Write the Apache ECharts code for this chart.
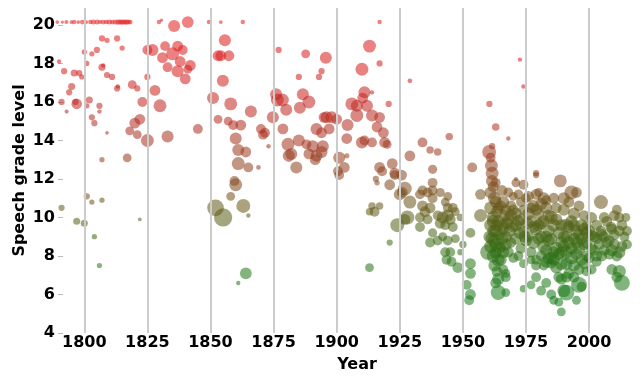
<!DOCTYPE html>
<html>
<head>
<meta charset="utf-8">
<script src="https://cdn.jsdelivr.net/npm/echarts@6/dist/echarts.min.js"></script>
<style>
html,body{margin:0;padding:0;background:#fff;}
#chart{width:640px;height:381px;}
</style>
</head>
<body>
<div id="chart"></div>
<script>
// [year, grade level, words]
const speechesEarly = [
[1789.3,20.15,500],[1791.3,20.15,400],[1792.9,20.15,600],[1794.9,20.15,500],[1796,20.15,700],[1797.6,20.15,500],[1799.2,20.15,800],[1800.8,20.15,500],[1802.4,20.15,700],[1803.6,20.15,900],[1805.1,20.15,900],[1806.3,20.15,600],[1807.5,20.15,800],[1808.7,20.15,700],[1809.9,20.15,900],[1811.1,20.15,800],[1812.3,20.15,900],[1813.4,20.15,1000],[1814.2,20.15,900],[1815,20.15,1000],[1815.8,20.15,900],[1816.6,20.15,1000],[1817.4,20.15,900],[1818.2,20.15,800],[1829.6,20.15,700],[1830.6,20.25,400],[1835.6,19.95,5200],[1841,20.15,5000],[1849.4,20.15,700],
[1790,18.1,700],[1792,17.6,1400],[1796,17.5,1800],[1798,17.5,1400],[1799,17.3,1000],[1795,16.8,1800],[1794,16.5,1400],[1791,16.0,1400],[1797,15.9,4000],[1796.5,16.0,1400],[1793,15.5,600],
[1800,18.6,1000],[1801,18.0,1000],[1805,18.7,1400],[1803,18.5,1000],[1807,19.3,1400],[1809,19.2,1000],[1813,19.3,1400],[1815,18.8,1000],[1807,17.8,1800],[1807.5,17.9,700],[1809,17.4,1400],[1811,17.3,1400],[1813,16.7,1400],[1813.3,16.8,700],
[1802,16.1,1800],[1801,15.8,1000],[1806,15.8,1400],[1806,15.5,700],[1803,15.2,1400],[1804,14.9,1400],[1809,14.4,500],[1807,13.0,1000],[1817,13.1,2800],
[1819,16.9,2800],[1821,16.7,1400],[1825,17.3,1400],[1823,16.0,3500],[1822,15.1,4200],[1820,14.9,4200],[1818,14.5,2800],[1821,14.3,2800],[1825,14.0,6000],[1833,14.2,5200],[1828,16.6,4200],[1830,15.8,6000],[1845,14.6,3500],
[1827,18.7,5200],[1825,18.7,3500],[1832,18.9,3500],[1831,18.3,4200],[1835,18.5,6000],[1837,18.9,4200],[1839,18.7,3500],[1838,18.1,4200],[1842,17.9,4200],[1833,17.8,3500],[1837,17.6,5200],[1840,17.2,4200],[1841,17.7,2800],
[1791,10.5,1400],[1797,9.8,1800],[1800,9.7,1800],[1801,11.1,1400],[1803,10.8,1000],[1807,10.9,1000],[1804,9.0,1000],[1806,7.5,1000],[1822,9.9,500]
];
const speechesMiddle = [
[1851,16.2,5200],[1853,18.4,4200],[1855.7,19.2,5200],[1854.1,18.4,4200],[1857.3,18.4,4200],[1854.9,17.1,5200],[1858,15.9,6000],[1866,15.5,5200],[1853,15.1,2800],[1857,15.0,2800],[1859,14.8,3500],[1862,14.8,4200],
[1860,14.1,5200],[1861,13.5,5200],[1864,13.4,4200],[1861,12.8,6000],[1865,12.6,3500],[1869,12.6,800],[1860,11.7,6000],[1859.5,11.9,3500],[1858,11.1,2800],[1863,10.6,7000],[1865,10.1,700],[1852,10.5,10000],[1855,10.0,12000],[1864,7.1,5000],[1861,6.6,700],
[1854.1,20.15,500],[1862.8,20.15,700],
[1877,18.7,1400],[1876,16.4,5200],[1876.5,16.1,6000],[1878.5,16.1,6000],[1880,15.6,5200],[1874.7,15.2,5200],[1878.7,14.6,4200],[1870,14.6,3500],[1871.6,14.4,3500],[1870.8,14.3,3500],[1873,13.7,700],
[1880.7,13.8,6000],[1882,13.3,5200],[1881,13.2,5200],[1884,12.6,5200],[1885,14.0,5200],[1888,13.8,3500],[1890.5,13.7,5200],[1894.5,13.7,5200],[1894,13.4,5200],[1889,13.3,4200],[1892,13.2,5200],[1891.5,13.0,4200],[1892,14.6,5200],[1894,14.4,4200],
[1896,15.2,5200],[1898,15.2,5200],[1900,15.1,4200],[1897,14.6,4200],[1895,15.2,4200],[1895.7,18.3,5200],[1887.7,18.5,2800],[1894,17.6,1400],[1893,17.3,1400],[1885,17.3,1400],[1886.6,16.4,5200],[1889,16.0,6000],[1885.4,15.7,5200],
[1904.3,14.8,5200],[1904,14.1,4200],[1906,15.9,6000],[1908,15.8,5200],[1912,15.8,5200],[1908,15.3,6000],[1910.3,16.2,4200],[1911,16.5,5200],[1914,16.5,700],[1913,18.9,6000],[1917,18.0,1400],[1910,17.7,6000],[1920.6,15.9,1400],[1929,17.1,800],[1917,20.15,700],
[1914,15.3,5200],[1917,15.2,4200],[1916,14.7,4200],[1918.5,14.4,4200],[1910,13.9,5200],[1911,14.0,3500],[1914,13.9,3500],[1919,13.9,4200],
[1901,13.1,5200],[1903,12.6,4200],[1901,12.2,3500],[1904,13.2,1000],[1900.5,12.4,3500],[1917,12.6,4200],[1918,12.4,3500],[1915.5,12.0,1400],[1916,11.8,1000],[1922,12.8,4200],
[1914,10.6,2000],[1917,10.6,2000],[1913,10.3,2000],[1915,10.3,3500],[1913,7.4,2800],[1921,8.7,1400],
[1921,11.7,4200],[1923,12.3,4200],[1925,11.2,5200],[1927,11.5,7000],[1929,10.8,6000],[1924,9.6,7000],[1928,10.0,7000],[1927,9.9,4200],[1920,13.8,2800],[1923,12.2,3500],[1925.7,12.2,4200],[1929,13.2,4200],[1926,11.3,4200]
];
const speechesModern = [
[1934,13.9,3500],[1937,13.5,2000],[1940,13.4,2000],[1944.6,14.2,2000],[1938,12.5,3000],[1938,11.8,3500],
[1934,11.4,3500],[1936,11.3,3500],[1938,11.4,3500],[1941,11.3,3000],[1944,11.1,2800],[1933,11.2,3500],[1938,11.0,3500],[1943,10.8,2800],
[1934,10.6,4200],[1937,10.5,4200],[1935,10.3,4200],[1947,10.3,2800],[1949,10.0,2000],[1942,10.0,5200],[1944,10.1,5200],[1945,9.9,4200],[1941,9.7,4200],[1943,9.6,3500],[1946,9.5,3500],[1933,10.0,3500],[1933,9.5,3500],[1953,9.2,3500],[1938,9.2,3000],
[1953.7,12.6,3500],[1957,11.2,4200],[1957,10.1,6000],
[1937,8.7,3500],[1940,8.8,3500],[1942,9.0,2800],[1944,8.8,3500],[1947,8.9,2800],[1943,8.2,3500],[1945,8.2,3500],[1949,8.2,1400],[1943.5,7.8,3500],[1945.5,7.7,3500],[1948,7.4,4200],[1953,7.6,4200],[1953,7.1,4200],[1951.5,6.5,3500],[1953,6.0,4200],[1952.5,5.7,3500],[1950,8.6,2000],
[1946,10.5,3500],[1944,10.5,3500],[1940,10.1,3500],[1936,9.9,3500],
[1960.5,15.9,1400],[1963,14.7,2000],[1968,14.1,700],[1960.4,13.4,7000],[1961.6,13.7,1400],[1961,13.1,3500],[1961.3,12.7,6000],[1961.6,12.3,6000],[1961.5,11.9,5200],[1962,11.6,4200],[1963,11.8,3500],[1961,11.3,5200],[1962.5,11.0,6000],[1963,10.8,5200],[1961,10.5,6000],[1963.5,10.3,5200],[1962,10.0,6000],[1964,9.8,5200],[1961,9.6,6000],[1963,9.3,6000],[1960.5,9.0,5200],[1962.5,8.8,6000],[1964.5,9.1,4200],[1961,8.5,6000],[1960,8.2,9000],[1964,7.8,6000],[1963,8.2,5200],[1965,8.5,4200],[1962.5,7.5,5200],[1963.5,7.2,4200],[1964,6.8,5200],[1963,6.6,4200],[1964,6.1,8000],[1966,7.3,3500],[1967,6.9,3500],[1967,6.1,2800],[1967,7.1,2800],[1965,10.6,4200],[1966,9.4,5200],[1965.5,8.9,5200],[1962,9.3,5200],[1964,10.5,4200],
[1962,9.8,6000],[1963.5,9.6,5200],[1964.5,8.4,5200],[1961.5,8.9,6000],[1963,8.6,6000],[1962,8.0,6000],[1965,7.8,5200],[1966,8.2,5200],[1967,8.6,5200],
[1972.6,18.2,700],[1974,16.8,700],[1979,12.3,1400],[1971,12.0,600],[1971,11.8,2800],[1974,11.7,3500],
[1968,11.3,3500],[1970,11.1,2800],[1972,11.2,3500],[1969,10.6,4200],[1971,10.2,5200],[1973,10.8,3500],[1968,9.9,5200],[1970,9.5,4200],[1972,9.8,5200],[1974,9.3,4200],[1967,9.0,5200],[1969,8.7,4200],[1971,8.9,5200],[1973,8.4,4200],[1975,8.8,5200],[1968,8.2,4200],[1970,7.9,3500],[1974,7.6,2800],[1972,8.0,3500],[1966,9.6,5200],[1967,10.4,4200],[1974,10.4,3500],[1975,11.0,3500],[1974,6.3,2000],[1977,6.5,2800],
[1965.5,11.4,4200],[1966,10.8,5200],[1966.5,10.1,5200],[1967.5,9.7,5200],[1968.5,9.3,5200],[1969,10.1,5200],[1970,10.4,4200],[1971,9.6,5200],[1972.5,9.2,5200],[1973,9.9,5200],[1974.5,9.0,5200],[1975.5,9.7,5200],
[1979,12.2,1400],[1976,11.1,4200],[1979,11.2,4200],[1982,11.0,5200],[1986,11.0,4200],[1990,11.0,5200],[1987,10.5,4200],[1978,10.6,5200],[1980,10.2,4200],[1983,10.5,5200],[1985,10.0,6000],[1977,9.8,5200],[1979,9.4,6000],[1981,9.7,5200],[1984,9.3,5200],[1986,9.6,6000],[1988,9.2,5200],[1976,9.0,4200],[1978,8.7,6000],[1980,8.9,5200],[1982,8.5,6000],[1984,8.8,5200],[1987,8.4,6000],[1989,8.7,5200],[1977,8.2,4200],[1979,7.8,3500],[1981,8.0,4200],[1983,7.7,5200],[1985,7.9,5200],[1987,7.4,5200],[1989,7.6,6000],[1977,7.8,2800],[1979,7.5,3500],[1982,7.5,3500],[1985,7.6,3500],[1988,6.9,4200],[1989,6.8,4200],[1979,6.9,3500],[1981,6.2,3500],[1983,6.6,3500],[1985,6.0,3500],[1986,5.7,2800],[1988,5.6,2800],[1989,5.1,2800],[1990,6.2,6000],[1991,6.1,9000],[1988.6,11.9,6000],[1983,10.9,3500],[1980,11.3,2800],
[1976,10.2,5200],[1977,10.5,4200],[1978,9.5,5200],[1980,9.6,5200],[1981,9.0,5200],[1982,9.8,5200],[1983,9.0,5200],[1984,10.1,5200],[1985,8.9,5200],[1986,8.2,5200],[1987,9.9,5200],[1988,8.1,5200],[1989,9.6,5200],[1979,10.4,5200],[1981,10.7,5200],[1983,8.3,5200],[1984,7.9,5200],[1986,7.8,5200],[1989,8.2,5200],
[1993,11.3,7000],[1995,11.3,4200],[1990,10.4,5200],[1992,10.8,4200],[1994,10.2,5200],[1996,10.6,4200],[1998,10.1,4200],[1991,9.6,6000],[1993,9.8,5200],[1995,9.3,6000],[1997,9.6,5200],[1999,9.2,5200],[1990,9.0,5200],[1992,8.7,6000],[1994,8.9,5200],[1996,8.4,6000],[1998,8.6,5200],[1991,8.2,6000],[1993,7.9,6000],[1995,8.1,5200],[1997,7.8,5200],[1999,8.0,4200],[1992,7.1,4200],[1996,7.3,4200],[1995,5.7,2800],[1996,6.5,9000],[1997,6.4,3500],[1999,7.2,3500],[1999,9.6,3500],
[1990,8.5,5200],[1991,9.0,5200],[1992,9.5,5200],[1993,8.4,5200],[1994,9.6,5200],[1995,8.7,5200],[1996,9.1,5200],[1997,8.9,5200],[1998,9.4,5200],[1999,8.7,5200],[1991,7.6,5200],[1994,7.5,5200],[1998,7.6,4200],[1994,6.9,4200],[1991,6.9,4200],
[2001,7.3,3500],[2001,10.0,4200],[2003,9.6,4200],[2004.7,10.8,7000],[2004.7,9.3,4200],[2006,10.0,4200],[2007,8.7,4200],[2008.7,9.5,4200],[2010,10.1,4200],[2011,10.4,3500],[2012,10.0,3500],[2014.6,10.0,2800],[2007,9.8,4200],[2009,9.4,4200],[2010,9.1,4200],[2012,9.3,4200],[2014,9.0,3500],[2002,9.0,4200],[2004,8.6,4200],[2006,8.3,4200],[2008,8.8,4200],[2009,8.3,5200],[2012,8.2,5200],[2013,8.5,4200],[2015,8.6,3500],[2003,8.0,4200],[2001,8.4,4200],[2009,7.3,4200],[2012,7.2,6000],[2013,6.6,9000],[2011,6.9,4200],[2000,7.9,4200],[2003,7.7,3500],[2005,9.1,5200],
[2000,9.3,5200],[2001,9.1,4200],[2002,8.3,4200],[2003,8.9,4200],[2005,8.0,4200],[2006,9.0,4200],[2008,8.1,4200],[2010,8.6,4200],[2011,8.0,4200],[2013,9.6,4200],[2015,9.3,3500]
];
const yearTicks = [1800,1825,1850,1875,1900,1925,1950,1975,2000];
const gradeTicks = [4,6,8,10,12,14,16,18,20];

const points = speechesEarly.concat(speechesMiddle, speechesModern);
const FONT = 'DejaVu Sans';
const chart = echarts.init(document.getElementById('chart'), null, {renderer:'canvas'});
chart.setOption({
  animation: false,
  grid: {left: 54, right: 8, top: 8, bottom: 48},
  xAxis: {
    type: 'value', min: 1788, max: 2017,
    axisLine: {show: false}, axisTick: {show: false}, splitLine: {show: false},
    axisLabel: {customValues: yearTicks, formatter: v => String(v), fontFamily: FONT, fontWeight: 'bold', fontSize: 16, color: '#000', margin: 2},
    name: 'Year', nameLocation: 'middle', nameGap: 24, nameMoveOverlap: false,
    nameTextStyle: {fontFamily: FONT, fontWeight: 'bold', fontSize: 16, color: '#000', padding: [0,0,0,28]}
  },
  yAxis: {
    type: 'value', min: 4, max: 20.88, offset: -9,
    axisLine: {show: false}, splitLine: {show: false},
    axisTick: {show: true, customValues: gradeTicks, length: 5, lineStyle: {color: '#bbbbbb', width: 1}},
    axisLabel: {customValues: gradeTicks, formatter: v => String(v), fontFamily: FONT, fontWeight: 'bold', fontSize: 16, color: '#000', margin: 8},
    name: 'Speech grade level', nameLocation: 'middle', nameGap: 35, nameRotate: 90, nameMoveOverlap: false,
    nameTextStyle: {fontFamily: FONT, fontWeight: 'bold', fontSize: 16, color: '#000'}
  },
  visualMap: {
    type: 'continuous', show: false, seriesIndex: 1, dimension: 1, min: 6, max: 20,
    inRange: {color: ['#147814','#2c7014','#5a5c14','#86461e','#a5321e','#c3231e','#d71919','#e11919']}
  },
  series: [
    {
      type: 'line', data: [], z: 0, silent: true,
      markLine: {
        silent: true, symbol: ['none','none'], animation: false,
        label: {show: false},
        lineStyle: {type: 'solid', color: '#cccccc', width: 2},
        data: yearTicks.map(v => ({xAxis: v}))
      }
    },
    {
      type: 'scatter', z: 2, clip: false,
      data: points,
      symbolSize: d => Math.sqrt(d[2]) / 6,
      itemStyle: {opacity: 0.55}
    }
  ]
});
</script>
</body>
</html>
